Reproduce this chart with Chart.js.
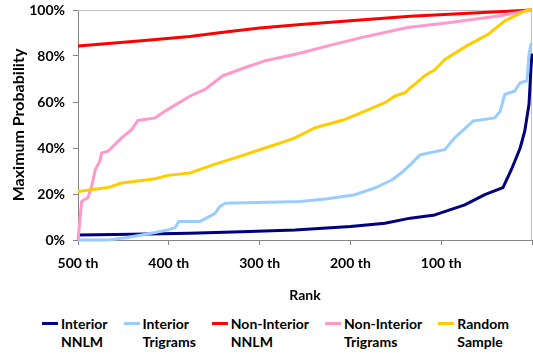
<!DOCTYPE html>
<html>
<head>
<meta charset="utf-8">
<script src="https://cdn.jsdelivr.net/npm/chart.js@4/dist/chart.umd.min.js"></script>
<style>
    body { margin: 0; background: #fff; }
    .chart-wrap { position: relative; width: 533px; height: 304px; }
    .legend {
        position: absolute; top: 315px; left: 42px;
        display: flex; gap: 16px;
        font: bold 14px Lato, sans-serif; line-height: 18px; color: #000;
    }
    .legend-item { display: flex; align-items: flex-start; }
    .legend-swatch { width: 16px; height: 3px; margin: 7px 3px 0 0; }
</style>
</head>
<body>
<div class="chart-wrap"><canvas id="probChart"></canvas></div>
<div class="legend" id="legend"></div>
<script>
// series names (legend text, two lines each)
const seriesNames = [
    ['Interior', 'NNLM'],
    ['Interior', 'Trigrams'],
    ['Non-Interior', 'NNLM'],
    ['Non-Interior', 'Trigrams'],
    ['Random', 'Sample']
];
const seriesColors = ['#000080', '#99ccff', '#ff0000', '#ff99cc', '#ffcc00'];

// tick labels
const xTickRanks = [500, 400, 300, 200, 100, 0];
const yTickValues = [0, 20, 40, 60, 80, 100];

// Interior NNLM
const interiorNnlmRanks = [500, 440, 377, 320, 261, 200, 162, 134, 107, 74, 52, 32, 22, 13, 8, 3.3, 1.1, 0];
const interiorNnlmProb = [2.2, 2.5, 2.9, 3.6, 4.4, 5.9, 7.3, 9.5, 10.9, 15.3, 19.7, 22.8, 31.3, 40, 47.3, 59, 75, 81];

// Interior Trigrams
const interiorTriRanks = [500, 467, 448, 430, 415, 401, 393, 389, 366, 349, 344, 338, 255, 225, 195, 173, 154, 142, 134, 123, 96, 85, 77, 65, 41, 35, 30, 19, 13, 5.5, 3.3, 1.1, 0];
const interiorTriProb = [0, 0, 1, 2.2, 3.3, 4.4, 5.4, 8, 8, 11.6, 14.5, 16, 16.7, 17.9, 19.7, 22.6, 26.2, 29.8, 32.8, 37.1, 39.3, 44.5, 47.3, 51.7, 53.1, 56, 63.3, 64.8, 68.4, 69.2, 80.8, 85.2, 85];

// Non-Interior NNLM
const nonInteriorNnlmRanks = [500, 430, 377, 340, 300, 258, 200, 134, 0];
const nonInteriorNnlmProb = [84.4, 86.6, 88.5, 90.3, 92.2, 93.6, 95.3, 97.3, 100];

// Non-Interior Trigrams
const nonInteriorTriRanks = [500, 496, 489, 485, 481, 476, 474, 467, 452, 441, 434, 415, 401, 377, 360, 341, 316, 294, 258, 225, 187, 137, 90, 35, 0];
const nonInteriorTriProb = [0, 16.7, 18.5, 23.3, 30.6, 34.2, 37.9, 38.6, 44.4, 48, 52, 53.1, 56.8, 62.5, 65.5, 71.3, 75, 77.9, 81, 84.4, 88.1, 92.4, 94.6, 97.5, 100];

// Random Sample
const randomRanks = [500, 467, 452, 415, 401, 377, 349, 327, 294, 272, 261, 239, 206, 184, 162, 151, 140, 134, 127, 118, 107, 96, 72, 48, 30, 5.5, 0];
const randomProb = [21.1, 22.8, 24.8, 26.6, 28.1, 29.1, 33, 35.7, 40, 42.9, 44.4, 48.8, 52.4, 56, 59.7, 62.6, 64, 66.2, 68.4, 71.5, 74, 78.5, 84.4, 89.5, 95.3, 100, 100];

const seriesRanks = [interiorNnlmRanks, interiorTriRanks, nonInteriorNnlmRanks, nonInteriorTriRanks, randomRanks];
const seriesProb = [interiorNnlmProb, interiorTriProb, nonInteriorNnlmProb, nonInteriorTriProb, randomProb];

const fontFamily = "Lato, 'Open Sans', sans-serif";

/**
 * Light frame on top and right of the plot area
 */
const plotFrame = {
    id: 'plotFrame',
    beforeDatasetsDraw(chart) {
        const { ctx, chartArea: a } = chart;
        ctx.save();
        ctx.strokeStyle = '#c0c0c0';
        ctx.lineWidth = 1;
        ctx.beginPath();
        ctx.moveTo(a.left, a.top + 0.5);
        ctx.lineTo(a.right - 0.5, a.top + 0.5);
        ctx.lineTo(a.right - 0.5, a.bottom);
        ctx.stroke();
        ctx.restore();
    }
};

// keep the plot area fixed: no extra room reserved for edge labels
function clearPadding(scale) {
    scale.paddingLeft = 0;
    scale.paddingRight = 0;
    scale.paddingTop = 0;
    scale.paddingBottom = 0;
}

const datasets = seriesNames.map((name, i) => ({
    label: name.join(' '),
    data: seriesRanks[i].map((r, j) => ({ x: r, y: seriesProb[i][j] })),
    borderColor: seriesColors[i],
    backgroundColor: seriesColors[i],
    borderWidth: 3,
    pointRadius: 0,
    tension: 0,
    borderJoinStyle: 'round',
    clip: 4,
    order: seriesNames.length - i
}));

new Chart(document.getElementById('probChart'), {
    type: 'line',
    data: { datasets: datasets },
    options: {
        responsive: true,
        maintainAspectRatio: false,
        animation: false,
        layout: { padding: { left: 0, right: 1, top: 10, bottom: 0 } },
        plugins: {
            legend: { display: false },
            tooltip: { enabled: false }
        },
        scales: {
            x: {
                type: 'linear',
                reverse: true,
                min: 0,
                max: 500,
                afterBuildTicks: scale => {
                    scale.ticks = xTickRanks.map(v => ({ value: v }));
                },
                afterFit: scale => {
                    scale.height = 64;
                    clearPadding(scale);
                },
                grid: {
                    drawOnChartArea: false,
                    drawTicks: true,
                    tickLength: 5,
                    color: '#868686'
                },
                border: { display: true, color: '#868686' },
                ticks: {
                    maxRotation: 0,
                    autoSkip: false,
                    padding: 10,
                    color: '#000',
                    font: { family: fontFamily, size: 14, weight: 'bold' },
                    callback: v => (v === 0 ? '' : v + ' th')
                },
                title: {
                    display: true,
                    text: 'Rank',
                    color: '#000',
                    font: { family: fontFamily, size: 14, weight: 'bold' },
                    padding: { top: 0, bottom: 0 }
                }
            },
            y: {
                min: 0,
                max: 100,
                afterBuildTicks: scale => {
                    scale.ticks = yTickValues.map(v => ({ value: v }));
                },
                afterFit: scale => {
                    scale.width = 78;
                    clearPadding(scale);
                },
                grid: {
                    drawOnChartArea: false,
                    drawTicks: true,
                    tickLength: 5,
                    color: '#868686'
                },
                border: { display: true, color: '#868686' },
                ticks: {
                    padding: 8,
                    color: '#000',
                    font: { family: fontFamily, size: 14, weight: 'bold' },
                    callback: v => v + '%'
                },
                title: {
                    display: true,
                    text: 'Maximum Probability',
                    color: '#000',
                    font: { family: fontFamily, size: 16, weight: 'bold' },
                    padding: { top: 9, bottom: 0 }
                }
            }
        }
    },
    plugins: [plotFrame]
});

// Build the two-line legend below the chart
const legendEl = document.getElementById('legend');
seriesNames.forEach((name, i) => {
    const item = document.createElement('div');
    item.className = 'legend-item';
    const swatch = document.createElement('span');
    swatch.className = 'legend-swatch';
    swatch.style.background = seriesColors[i];
    const text = document.createElement('span');
    text.innerHTML = name.join('<br>');
    item.appendChild(swatch);
    item.appendChild(text);
    legendEl.appendChild(item);
});
</script>
</body>
</html>
